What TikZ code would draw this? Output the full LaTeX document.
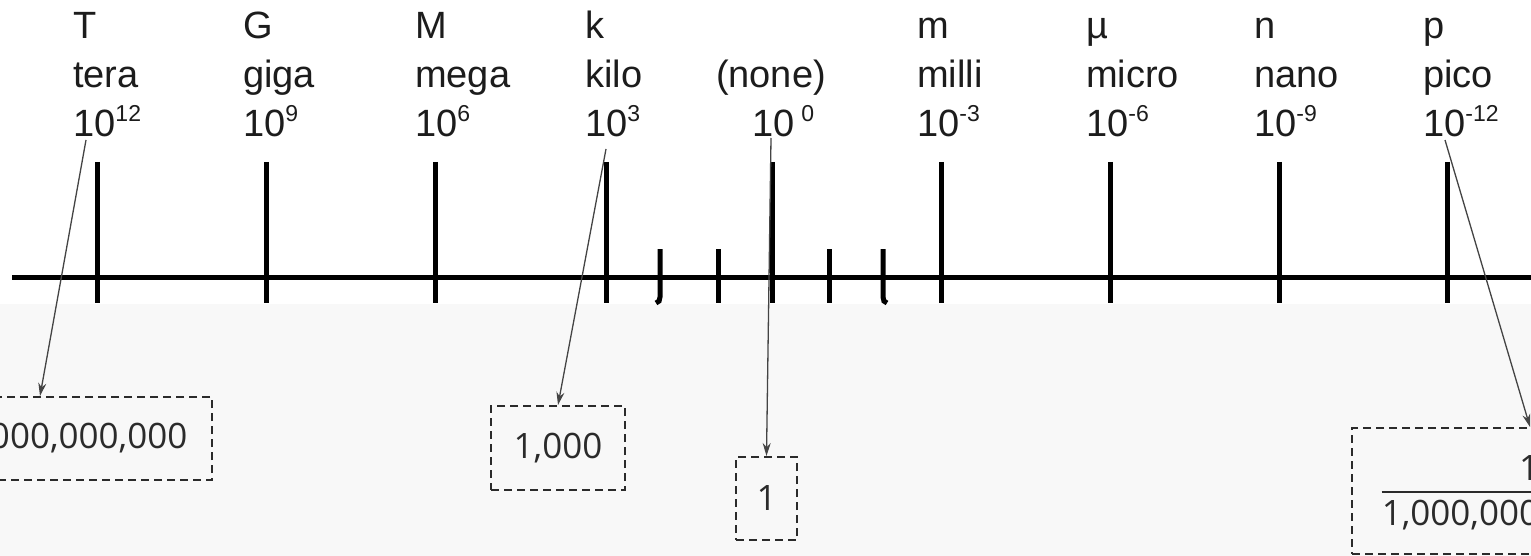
\documentclass[tikz,border=0pt]{standalone}
\usepackage{fontspec}
\setmainfont{Liberation Sans}
\newfontfamily\boxfont{Open Sans}
\usetikzlibrary{arrows.meta}
\definecolor{paper}{HTML}{F8F8F8}
\definecolor{ink}{HTML}{1C1C1C}
\definecolor{boxink}{HTML}{2B2B2B}
\definecolor{arrowink}{HTML}{444444}
% raised, smaller exponent after "10"
\newcommand\expo[1]{\raisebox{15pt}{\fontsize{23}{23}\selectfont #1}}

\begin{document}
\begin{tikzpicture}[x=1pt,y=-1pt,
  lbl/.style={anchor=base west, inner sep=0pt, text=ink, font=\fontsize{38}{46}\selectfont},
  axisline/.style={line width=5pt, black},
  valbox/.style={draw=boxink, line width=2pt, dash pattern=on 8pt off 5pt,
    inner sep=0pt, text=boxink, font=\boxfont\fontsize{35}{42}\selectfont},
  valtext/.style={inner sep=0pt, text=boxink, font=\boxfont\fontsize{35}{42}\selectfont},
  link/.style={draw=arrowink, line width=1.3pt, -{Stealth[length=13pt,width=8pt]}}]

\useasboundingbox (0,0) rectangle (1531,556);
\clip (0,0) rectangle (1531,556);

% backgrounds
\fill[paper] (0,0) rectangle (1531,556);
\fill[white] (0,0) rectangle (1531,304);

% prefix columns: symbol, name, power, and the long tick
\foreach \tx/\lx/\s/\n/\p [count=\i] in {
    97/73/T/tera/12, 266/243/G/giga/9, 435/415/M/mega/6, 606/585/k/kilo/3,
    941/917/m/milli/-3, 1110/1086/µ/micro/-6, 1279/1254/n/nano/-9, 1447/1423/p/pico/-12} {
  \node[lbl] (sym-\i) at (\lx,39) {\s};
  \node[lbl] (name-\i) at (\lx,88) {\n};
  \node[lbl] (pow-\i) at (\lx,137) {10\expo{\p}};
  \draw[axisline] (\tx,162) -- (\tx,303);
}

% the unprefixed column
\node[lbl, anchor=base] (name-none) at (771,88) {(none)};
\node[lbl] (pow-none) at (752,137) {10\kern7pt\expo{0}};
\draw[axisline] (772,162) -- (772,303);

% short ticks between kilo and milli
\draw[axisline] (660,249) -- (660,297) to[out=-90,in=0] (656,303);
\draw[axisline] (718,249) -- (718,303);
\draw[axisline] (829,249) -- (829,303);
\draw[axisline] (883,249) -- (883,297) to[out=-90,in=180] (887,303);

% the axis
\draw[axisline] (12,277) -- (1531,277);

% value boxes
\node[valbox, minimum width=344pt, minimum height=83pt] (val-tera) at (40,438.5) {1,000,000,000,000};
\node[valbox, minimum width=134pt, minimum height=84pt] (val-kilo) at (558,448) {1,000};
\node[valbox, minimum width=61pt, minimum height=83pt] (val-one) at (766.5,498.5) {1};
\node[valbox, minimum width=356pt, minimum height=126pt] (val-pico) at (1530,491) {};
\node[valtext, anchor=base] (pico-num) at (1529,480) {1};
\node[valtext, anchor=base] (pico-den) at (1529,525) {1,000,000,000,000};
\coordinate (barlevel) at (0,492);
\draw[boxink, line width=2pt] (pico-den.west |- barlevel) -- (pico-den.east |- barlevel);

% arrows from the powers to their values
\coordinate (from-tera) at (86,140);
\coordinate (from-kilo) at (606,149);
\coordinate (from-one) at (771,138);
\coordinate (from-pico) at (1445,140);
\draw[link] (from-tera) -- (val-tera.north);
\draw[link] (from-kilo) -- (val-kilo.north);
\draw[link] (from-one) -- (val-one.north);
\draw[link] (from-pico) -- (val-pico.north);
\end{tikzpicture}
\end{document}
